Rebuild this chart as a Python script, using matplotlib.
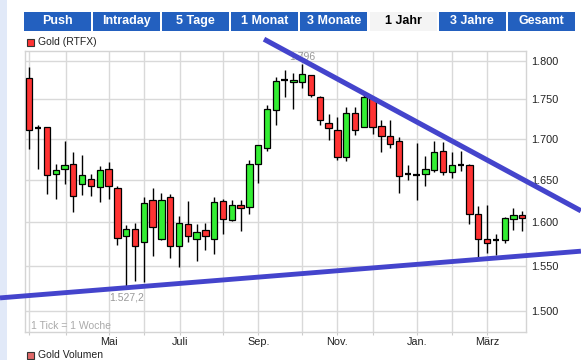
import matplotlib
matplotlib.use('Agg')
import matplotlib.pyplot as plt
from matplotlib.patches import Rectangle
from matplotlib.ticker import FixedLocator, FuncFormatter, NullLocator
import numpy as np

# ---- data (weekly candles, USD/oz) ----
opens = [1778, 1714, 1715, 1658, 1663, 1669, 1645, 1651, 1642, 1664,
         1641, 1584.5, 1592.5, 1577, 1626, 1581, 1629.5, 1573, 1598, 1581,
         1591, 1581, 1625, 1603, 1620.5, 1618.5, 1670, 1689.5, 1737, 1774.5,
         1772.5, 1772.5, 1781.5, 1753.5, 1720.5, 1712, 1678, 1733, 1715, 1752,
         1716, 1704, 1698, 1658, 1656, 1657, 1662, 1686, 1660, 1668,
         1668, 1610, 1581, 1579, 1579, 1604, 1609]
highs = [1792, 1718, 1715, 1669, 1697.5, 1684, 1681, 1658, 1667, 1672,
         1643, 1597, 1599, 1630, 1641, 1635, 1633, 1608, 1625, 1598,
         1599, 1630, 1628, 1626, 1626, 1674, 1693, 1743, 1779, 1788,
         1784, 1796, 1781.5, 1755, 1731.5, 1728, 1740.5, 1740.5, 1757, 1753.5,
         1724, 1724, 1703, 1668, 1695.5, 1679, 1698, 1697, 1684.5, 1686,
         1669, 1619, 1620.5, 1587, 1606, 1617, 1613]
lows = [1688, 1663, 1634, 1628, 1645, 1612, 1632, 1631, 1624, 1627,
        1574, 1527.2, 1533, 1532, 1561, 1580, 1559, 1549, 1577, 1556,
        1568, 1564, 1586, 1602, 1590, 1610, 1646.5, 1686, 1718, 1753,
        1738, 1765, 1753.5, 1718, 1699, 1674, 1673, 1705.5, 1715, 1707,
        1684.5, 1689.5, 1635, 1650, 1626, 1643, 1660, 1656, 1652.5, 1661,
        1598, 1559.5, 1565, 1562, 1576.5, 1591, 1590]
closes = [1712, 1714, 1656, 1662, 1668, 1631, 1656, 1643, 1662, 1643,
          1582, 1592.5, 1573, 1623, 1595, 1626, 1573, 1599, 1584.5, 1589,
          1584.5, 1624, 1604, 1620.5, 1617, 1669, 1693, 1738, 1774, 1774.5,
          1775, 1783, 1756, 1724, 1714, 1678, 1733, 1712, 1753.5, 1715,
          1704, 1694, 1655, 1658, 1656, 1663, 1684.5, 1660, 1668, 1668,
          1610, 1581, 1576.5, 1579, 1605, 1609, 1605]

month_pos = [0, 4.14, 9.09, 13.07, 17.13, 22.05, 26.02, 31.02, 35.0, 39.02, 44.02, 48.0, 51.98]
month_labels = ['', '', 'Mai', '', 'Juli', '', 'Sep.', '', 'Nov.', '', 'Jan.', '', 'März']
y_ticks = [1500, 1550, 1600, 1650, 1700, 1750, 1800]
tabs = ['Push', 'Intraday', '5 Tage', '1 Monat', '3 Monate', '1 Jahr', '3 Jahre', 'Gesamt']
active_tab = '1 Jahr'
upper_trend_x = [26.66, 62.66]
upper_trend_y = [1828.7, 1613.5]
lower_trend_x = [-3.33, 62.66]
lower_trend_y = [1514.2, 1566.7]
high_idx, high_label = 31, '1.796'
low_idx, low_label = 11, '1.527,2'

FONT = 'Liberation Sans'
W, H = 581, 360
fig = plt.figure(figsize=(W / 100, H / 100), dpi=100)
fig.patch.set_facecolor('white')


def fx(px):
    return px / W


def fy(py):
    return 1 - py / H


# left light-blue strip
fig.add_artist(Rectangle((0, 0), fx(7), 1, transform=fig.transFigure,
                         facecolor='#e1e9f8', edgecolor='none', zorder=0))

# tabs
tab_x0, tab_pitch, tab_w = 23.5, 69.2, 67.0
for i, t in enumerate(tabs):
    x0 = tab_x0 + i * tab_pitch
    active = (t == active_tab)
    fig.add_artist(Rectangle((fx(x0), fy(30.5)), fx(tab_w), 18.5 / H, transform=fig.transFigure,
                             facecolor='#f4f4f4' if active else '#2360bf', edgecolor='none'))
    fig.text(fx(x0 + tab_w / 2), fy(21.3), t, ha='center', va='center',
             color='black' if active else 'white', fontsize=9, fontweight='bold', family=FONT)

# legends
fig.add_artist(Rectangle((fx(26.5), fy(46)), fx(7), 7 / H, transform=fig.transFigure,
                         facecolor='#ff3333', edgecolor='#333333', linewidth=0.8))
fig.text(fx(38), fy(42.3), 'Gold (RTFX)', ha='left', va='center', fontsize=7.5,
         family=FONT, color='#222222')
fig.add_artist(Rectangle((fx(26.5), fy(359)), fx(7), 7 / H, transform=fig.transFigure,
                         facecolor='#e06868', edgecolor='#333333', linewidth=0.8))
fig.text(fx(38), fy(355), 'Gold Volumen', ha='left', va='center', fontsize=7.5,
         family=FONT, color='#222222')

ax = fig.add_axes([fx(25), fy(332), fx(501), 281 / H])
ax.set_facecolor('white')
ax.set_yscale('log')

o = np.array(opens, float)
h = np.array(highs, float)
l = np.array(lows, float)
c = np.array(closes, float)
x = np.arange(len(o))

ax.vlines(x, l, h, color='black', linewidth=1.0, zorder=2)
body = c != o
cols = np.where(c > o, '#33ee33', '#ff3333')
bottoms = np.minimum(o, c)
heights = np.abs(c - o)
ax.bar(x[body], heights[body], bottom=bottoms[body], width=0.72, color=cols[body],
       edgecolor='black', linewidth=0.9, zorder=3)
doji = ~body
ax.hlines(o[doji], x[doji] - 0.36, x[doji] + 0.36, color='black', linewidth=1.6, zorder=3)

ax.set_xlim(-0.49, 56.42)
ax.set_ylim(1477, 1813)

ax.yaxis.set_major_locator(FixedLocator(y_ticks))
ax.yaxis.set_minor_locator(NullLocator())
ax.yaxis.set_major_formatter(FuncFormatter(lambda v, p: f"{v:,.0f}".replace(',', '.')))
ax.yaxis.tick_right()
ax.tick_params(axis='y', length=0, pad=3.5, labelsize=7.8, labelcolor='#222222')
ax.xaxis.set_major_locator(FixedLocator(month_pos))
ax.set_xticklabels(month_labels)
ax.tick_params(axis='x', length=2, color='#cccccc', pad=1.5, labelsize=7.8, labelcolor='#222222')
for lab in ax.get_xticklabels() + ax.get_yticklabels():
    lab.set_family(FONT)

ax.set_axisbelow(True)
ax.grid(True, color='#d9d9d9', linewidth=1.0, zorder=0)
for s in ax.spines.values():
    s.set_color('#d4d4d4')
    s.set_linewidth(1.0)

ax.annotate(high_label, (high_idx, h[high_idx]), xytext=(0, 5), textcoords='offset points',
            ha='center', va='center', fontsize=7.5, color='#999999', family=FONT, zorder=4)
ax.annotate(low_label, (low_idx, l[low_idx]), xytext=(0, -8), textcoords='offset points',
            ha='center', va='center', fontsize=7.5, color='#999999', family=FONT, zorder=4)
ax.text(6 / 501, 6.3 / 281, '1 Tick = 1 Woche', transform=ax.transAxes, ha='left', va='center',
        fontsize=7.5, color='#aaaaaa', family=FONT)

# trend lines
ax.plot(upper_trend_x, upper_trend_y, color='#4444cc', linewidth=3.7,
        solid_capstyle='butt', clip_on=False, zorder=6)
ax.plot(lower_trend_x, lower_trend_y, color='#4444cc', linewidth=3.5,
        solid_capstyle='butt', clip_on=False, zorder=6)

fig.savefig('out.png', dpi=100, facecolor='white')
